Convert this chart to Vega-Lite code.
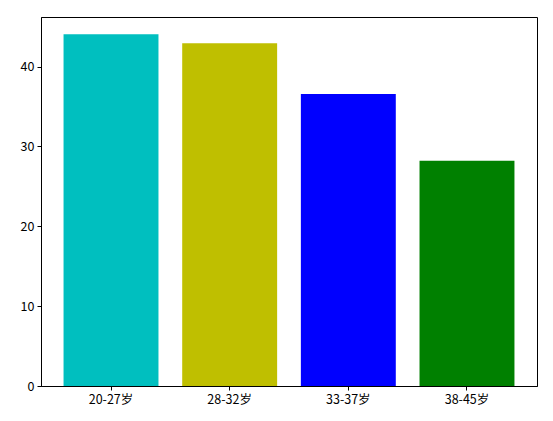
{
  "$schema": "https://vega.github.io/schema/vega-lite/v6.json",
  "width": 496,
  "height": 369,
  "autosize": {"type": "none"},
  "padding": {"left": 41, "top": 17, "right": 16, "bottom": 35},
  "background": "white",
  "config": {
    "view": {"stroke": "black", "strokeWidth": 1},
    "font": "Noto Sans CJK SC"
  },
  "data": {
    "values": [
      {"group": "20-27岁", "value": 44.05, "color": "#00bfbf"},
      {"group": "28-32岁", "value": 42.9, "color": "#bfbf00"},
      {"group": "33-37岁", "value": 36.55, "color": "#0000ff"},
      {"group": "38-45岁", "value": 28.2, "color": "#008000"}
    ]
  },
  "mark": {"type": "bar"},
  "encoding": {
    "x": {
      "field": "group",
      "type": "nominal",
      "sort": null,
      "scale": {"paddingInner": 0.2, "paddingOuter": 0.19},
      "axis": {
        "title": null,
        "labelAngle": 0,
        "labelFont": "Noto Sans CJK SC",
        "labelFontSize": 12.5,
        "labelColor": "black",
        "tickColor": "black",
        "tickSize": 4,
        "labelPadding": 3,
        "domainColor": "black",
        "grid": false
      }
    },
    "y": {
      "field": "value",
      "type": "quantitative",
      "scale": {"domain": [0, 46.2], "nice": false, "zero": true},
      "axis": {
        "title": null,
        "values": [0, 10, 20, 30, 40],
        "labelFont": "Noto Sans CJK SC",
        "labelFontSize": 12.5,
        "labelColor": "black",
        "tickColor": "black",
        "tickSize": 4,
        "labelPadding": 3,
        "domainColor": "black",
        "grid": false
      }
    },
    "color": {"field": "color", "type": "nominal", "scale": null, "legend": null}
  }
}
